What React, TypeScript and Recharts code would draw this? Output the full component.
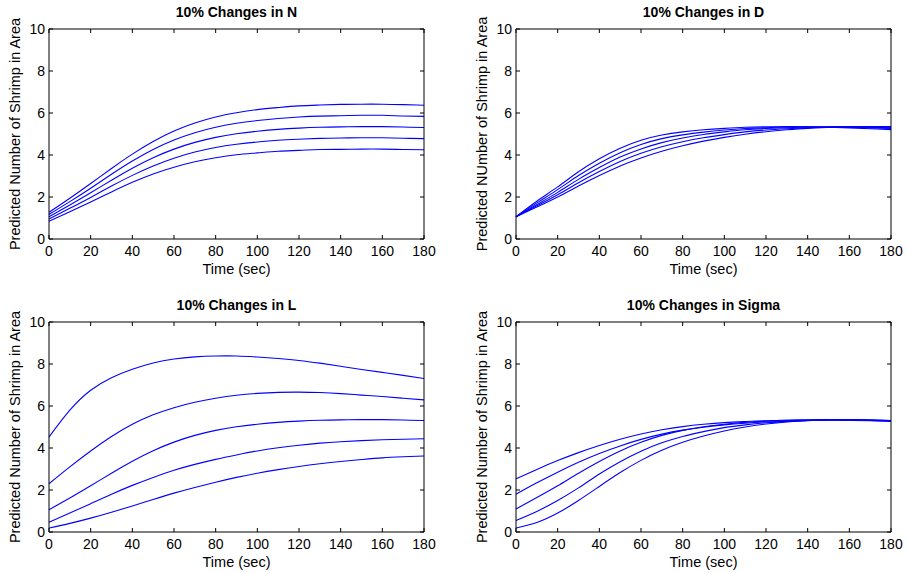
import React from 'react';
import { LineChart, Line, XAxis, YAxis, Label } from 'recharts';

const TIME = [0, 10, 20, 30, 40, 50, 60, 70, 80, 90, 100, 110, 120, 130, 140, 150, 160, 170, 180];
const X_TICKS = [0, 20, 40, 60, 80, 100, 120, 140, 160, 180];
const Y_TICKS = [0, 2, 4, 6, 8, 10];

// 10% changes in N
const N_MINUS20 = [0.85, 1.30, 1.76, 2.24, 2.70, 3.10, 3.42, 3.68, 3.87, 4.01, 4.10, 4.18, 4.22, 4.26, 4.27, 4.28, 4.28, 4.26, 4.25];
const N_MINUS10 = [0.95, 1.46, 1.98, 2.52, 3.03, 3.48, 3.85, 4.14, 4.36, 4.51, 4.62, 4.70, 4.75, 4.79, 4.81, 4.82, 4.82, 4.80, 4.78];
const N_BASE = [1.06, 1.62, 2.2, 2.8, 3.37, 3.87, 4.28, 4.6, 4.84, 5.01, 5.13, 5.22, 5.28, 5.32, 5.34, 5.35, 5.35, 5.33, 5.31];
const N_PLUS10 = [1.17, 1.78, 2.42, 3.08, 3.71, 4.26, 4.71, 5.06, 5.32, 5.51, 5.64, 5.74, 5.81, 5.85, 5.87, 5.89, 5.89, 5.86, 5.84];
const N_PLUS20 = [1.27, 1.94, 2.64, 3.36, 4.04, 4.64, 5.14, 5.52, 5.81, 6.01, 6.16, 6.26, 6.34, 6.38, 6.41, 6.42, 6.42, 6.40, 6.37];

// 10% changes in D
const D_1 = [1.06, 1.8, 2.48, 3.2, 3.82, 4.32, 4.7, 4.95, 5.1, 5.2, 5.27, 5.32, 5.34, 5.35, 5.34, 5.32, 5.29, 5.25, 5.21];
const D_2 = [1.06, 1.72, 2.35, 3.02, 3.61, 4.11, 4.5, 4.78, 4.96, 5.09, 5.19, 5.26, 5.3, 5.33, 5.34, 5.33, 5.32, 5.29, 5.26];
const D_3 = [1.06, 1.64, 2.22, 2.84, 3.4, 3.9, 4.29, 4.59, 4.81, 4.98, 5.1, 5.2, 5.26, 5.3, 5.33, 5.34, 5.34, 5.32, 5.3];
const D_4 = [1.06, 1.58, 2.11, 2.68, 3.21, 3.69, 4.08, 4.39, 4.63, 4.82, 4.97, 5.1, 5.19, 5.25, 5.3, 5.33, 5.34, 5.34, 5.33];
const D_5 = [1.06, 1.52, 2.0, 2.52, 3.02, 3.48, 3.86, 4.18, 4.44, 4.66, 4.84, 4.99, 5.11, 5.2, 5.27, 5.31, 5.34, 5.35, 5.35];

// 10% changes in L
const L_1 = [4.52, 5.8, 6.75, 7.35, 7.75, 8.05, 8.24, 8.34, 8.38, 8.38, 8.33, 8.26, 8.17, 8.04, 7.89, 7.74, 7.6, 7.46, 7.31];
const L_2 = [2.3, 3.1, 3.86, 4.55, 5.13, 5.58, 5.92, 6.18, 6.37, 6.51, 6.6, 6.65, 6.66, 6.64, 6.59, 6.52, 6.45, 6.37, 6.29];
const L_3 = [1.06, 1.62, 2.2, 2.8, 3.37, 3.87, 4.28, 4.6, 4.84, 5.01, 5.13, 5.22, 5.28, 5.32, 5.34, 5.35, 5.35, 5.33, 5.31];
const L_4 = [0.47, 0.9, 1.35, 1.8, 2.22, 2.6, 2.94, 3.22, 3.46, 3.67, 3.86, 4.01, 4.13, 4.23, 4.3, 4.35, 4.39, 4.42, 4.44];
const L_5 = [0.19, 0.41, 0.66, 0.94, 1.24, 1.55, 1.85, 2.12, 2.37, 2.6, 2.8, 2.97, 3.12, 3.25, 3.36, 3.45, 3.53, 3.58, 3.62];

// 10% changes in Sigma
const S_1 = [2.53, 2.98, 3.4, 3.78, 4.12, 4.42, 4.67, 4.87, 5.02, 5.13, 5.21, 5.26, 5.3, 5.32, 5.33, 5.33, 5.32, 5.3, 5.27];
const S_2 = [1.8, 2.34, 2.85, 3.32, 3.74, 4.1, 4.41, 4.66, 4.85, 4.99, 5.1, 5.18, 5.24, 5.28, 5.31, 5.33, 5.33, 5.31, 5.29];
const S_3 = [1.1, 1.64, 2.2, 2.8, 3.36, 3.86, 4.27, 4.6, 4.84, 5.01, 5.13, 5.22, 5.28, 5.32, 5.34, 5.35, 5.35, 5.33, 5.31];
const S_4 = [0.55, 0.98, 1.5, 2.1, 2.76, 3.35, 3.85, 4.25, 4.55, 4.78, 4.97, 5.1, 5.2, 5.27, 5.31, 5.34, 5.34, 5.33, 5.31];
const S_5 = [0.19, 0.45, 0.9, 1.5, 2.17, 2.83, 3.41, 3.89, 4.27, 4.57, 4.81, 5.0, 5.14, 5.24, 5.3, 5.33, 5.34, 5.33, 5.3];

const KEYS = ['s1', 's2', 's3', 's4', 's5'];
const buildRows = (series: number[][]) =>
  TIME.map((t, i) => {
    const row: any = { t };
    series.forEach((s, k) => {
      row[KEYS[k]] = s[i];
    });
    return row;
  });

const N_DATA = buildRows([N_MINUS20, N_MINUS10, N_BASE, N_PLUS10, N_PLUS20]);
const D_DATA = buildRows([D_1, D_2, D_3, D_4, D_5]);
const L_DATA = buildRows([L_1, L_2, L_3, L_4, L_5]);
const S_DATA = buildRows([S_1, S_2, S_3, S_4, S_5]);

const FONT = '"Liberation Sans", Arial, Helvetica, sans-serif';
const TICK_LEN = 4;

const BottomTick = (props: any) => {
  const { x, y, payload } = props;
  return (
    <g>
      <line x1={x} y1={y} x2={x} y2={y - TICK_LEN} stroke="#000" strokeWidth={1} />
      <text x={x} y={y + 17} textAnchor="middle" fontSize={14} fontFamily={FONT} fill="#000">
        {payload.value}
      </text>
    </g>
  );
};

const LeftTick = (props: any) => {
  const { x, y, payload } = props;
  return (
    <g>
      <line x1={x} y1={y} x2={x + TICK_LEN} y2={y} stroke="#000" strokeWidth={1} />
      <text x={x - 4} y={y + 5} textAnchor="end" fontSize={14} fontFamily={FONT} fill="#000">
        {payload.value}
      </text>
    </g>
  );
};

const TopTick = (props: any) => {
  const { x, y } = props;
  return <line x1={x} y1={y} x2={x} y2={y + TICK_LEN} stroke="#000" strokeWidth={1} />;
};

const RightTick = (props: any) => {
  const { x, y } = props;
  return <line x1={x} y1={y} x2={x - TICK_LEN} y2={y} stroke="#000" strokeWidth={1} />;
};

type PanelProps = {
  title: string;
  ylabel: string;
  data: any[];
  left: number;
  top: number;
  height: number;
  margin: { top: number; right: number; left: number; bottom: number };
};

const Panel = ({ title, ylabel, data, left, top, height, margin }: PanelProps) => (
  <div style={{ position: 'absolute', left, top, width: 454, height }}>
    <LineChart width={454} height={height} data={data} margin={margin}>
      <XAxis
        dataKey="t"
        type="number"
        domain={[0, 180]}
        ticks={X_TICKS}
        interval={0}
        height={20}
        tickSize={0}
        tickMargin={0}
        tickLine={false}
        tick={<BottomTick />}
        axisLine={{ stroke: '#000' }}
      >
        <Label
          content={(p: any) => {
            const vb = p.viewBox || {};
            return (
              <text x={vb.x + vb.width / 2} y={vb.y + 35} textAnchor="middle" fontSize={14.5} fontFamily={FONT} fill="#000">
                Time (sec)
              </text>
            );
          }}
        />
      </XAxis>
      <XAxis
        xAxisId="top"
        dataKey="t"
        orientation="top"
        type="number"
        domain={[0, 180]}
        ticks={X_TICKS}
        interval={0}
        height={1}
        tickSize={0}
        tickMargin={0}
        tickLine={false}
        tick={<TopTick />}
        axisLine={{ stroke: '#000' }}
      >
        <Label
          content={(p: any) => {
            const vb = p.viewBox || {};
            return (
              <text x={vb.x + vb.width / 2} y={vb.y + vb.height - 12} textAnchor="middle" fontSize={14} fontWeight="bold" fontFamily={FONT} fill="#000">
                {title}
              </text>
            );
          }}
        />
      </XAxis>
      <YAxis
        type="number"
        domain={[0, 10]}
        ticks={Y_TICKS}
        interval={0}
        width={40}
        tickSize={0}
        tickMargin={0}
        tickLine={false}
        tick={<LeftTick />}
        axisLine={{ stroke: '#000' }}
      >
        <Label
          content={(p: any) => {
            const vb = p.viewBox || {};
            const cx = vb.x + 11;
            const cy = vb.y + vb.height / 2;
            return (
              <text
                x={cx}
                y={cy}
                transform={`rotate(-90, ${cx}, ${cy})`}
                textAnchor="middle"
                fontSize={14.5}
                fontFamily={FONT}
                fill="#000"
              >
                {ylabel}
              </text>
            );
          }}
        />
      </YAxis>
      <YAxis
        yAxisId="right"
        orientation="right"
        type="number"
        domain={[0, 10]}
        ticks={Y_TICKS}
        interval={0}
        width={1}
        tickSize={0}
        tickMargin={0}
        tickLine={false}
        tick={<RightTick />}
        axisLine={{ stroke: '#000' }}
      />
      {KEYS.map((k) => (
        <Line
          key={k}
          type="natural"
          dataKey={k}
          stroke="#0000ff"
          strokeWidth={1.1}
          dot={false}
          activeDot={false}
          isAnimationActive={false}
        />
      ))}
      <Line
        xAxisId="top"
        yAxisId="right"
        dataKey="s3"
        stroke="transparent"
        strokeWidth={0}
        dot={false}
        activeDot={false}
        isAnimationActive={false}
      />
    </LineChart>
  </div>
);

export default function App() {
  return (
    <div style={{ position: 'absolute', left: 0, top: 0, width: 908, height: 573, background: '#fff', overflow: 'hidden' }}>
      <Panel
        title="10% Changes in N"
        ylabel="Predicted Number of Shrimp in Area"
        data={N_DATA}
        left={0}
        top={0}
        height={290}
        margin={{ top: 28, right: 29, left: 9, bottom: 31 }}
      />
      <Panel
        title="10% Changes in D"
        ylabel="Predicted NUmber of Shrimp in Area"
        data={D_DATA}
        left={454}
        top={0}
        height={290}
        margin={{ top: 28, right: 16, left: 22, bottom: 31 }}
      />
      <Panel
        title="10% Changes in L"
        ylabel="Predicted Number of Shrimp in Area"
        data={L_DATA}
        left={0}
        top={290}
        height={283}
        margin={{ top: 31, right: 29, left: 9, bottom: 21 }}
      />
      <Panel
        title="10% Changes in Sigma"
        ylabel="Predicted Number of Shrimp in Area"
        data={S_DATA}
        left={454}
        top={290}
        height={283}
        margin={{ top: 31, right: 16, left: 22, bottom: 21 }}
      />
    </div>
  );
}
